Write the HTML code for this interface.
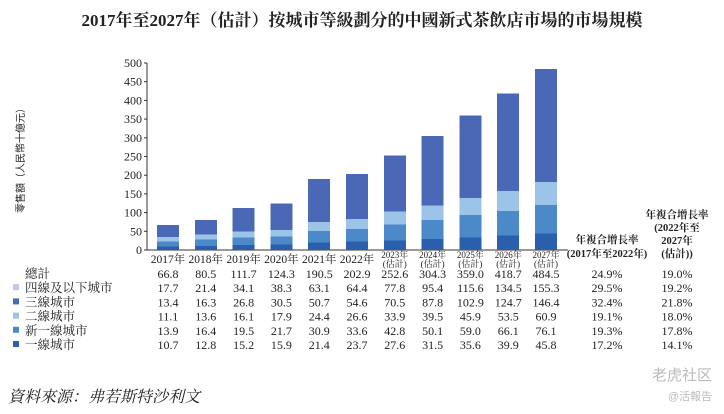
<!DOCTYPE html>
<html><head><meta charset="utf-8">
<style>
body{margin:0;width:724px;height:414px;background:#fff;overflow:hidden;font-family:"Liberation Serif","Noto Serif CJK SC",serif;}
svg{display:block}
text{fill:#222}
</style></head>
<body>
<svg id="chart" width="724" height="414">
<text x="362" y="26" text-anchor="middle" font-size="17" font-weight="bold">2017年至2027年（估計）按城市等級劃分的中國新式茶飲店市場的市場規模</text>
<text transform="translate(24,158) rotate(-90)" text-anchor="middle" font-size="10" font-family="Liberation Sans,Noto Sans CJK TC,sans-serif">零售額（人民幣十億元）</text>
<g id="axis"></g><g id="bars" shape-rendering="crispEdges"></g><g id="table"></g>
<text x="8" y="402" font-size="16" font-style="italic">資料來源：弗若斯特沙利文</text>
<text x="712" y="380" text-anchor="end" font-size="15" style="fill:#bbb" font-family="Liberation Sans,Noto Sans CJK SC,sans-serif">老虎社区</text>
<text x="712" y="400" text-anchor="end" font-size="11" style="fill:#bbb" font-family="Liberation Sans,Noto Sans CJK SC,sans-serif">@活報告</text>
</svg>
<script>
const years=["2017","2018","2019","2020","2021","2022","2023","2024","2025","2026","2027"];
const tier1=[10.7,12.8,15.2,15.9,21.4,23.7,27.6,31.5,35.6,39.9,45.8];
const newTier1=[13.9,16.4,19.5,21.7,30.9,33.6,42.8,50.1,59.0,66.1,76.1];
const tier2=[11.1,13.6,16.1,17.9,24.4,26.6,33.9,39.5,45.9,53.5,60.9];
const tier3=[13.4,16.3,26.8,30.5,50.7,54.6,70.5,87.8,102.9,124.7,146.4];
const tier4=[17.7,21.4,34.1,38.3,63.1,64.4,77.8,95.4,115.6,134.5,155.3];
const totals=[66.8,80.5,111.7,124.3,190.5,202.9,252.6,304.3,359.0,418.7,484.5];
const cagr1=["24.9%","29.5%","32.4%","19.1%","19.3%","17.2%"];
const cagr2=["19.0%","19.2%","21.8%","18.0%","17.8%","14.1%"];
const yTicks=[0,50,100,150,200,250,300,350,400,450,500];
const NS="http://www.w3.org/2000/svg";
const y0=250,yTop=63,yMax=500,x0=168,step=37.8,bw=22;
const Y=v=>y0-(v/yMax)*(y0-yTop);
const X=i=>x0+i*step;
function mk(p,t,a){const e=document.createElementNS(NS,t);for(const k in a)e.setAttribute(k,a[k]);p.appendChild(e);return e;}
const ax=document.getElementById('axis'),bars=document.getElementById('bars'),tb=document.getElementById('table');
let l=mk(ax,'line',{x1:147,y1:yTop,x2:147,y2:y0,stroke:'#333'});


l=mk(ax,'line',{x1:147,y1:y0,x2:X(10)+22,y2:y0,stroke:'#333'});


yTicks.forEach(v=>{
 mk(ax,'line',{x1:144,y1:Y(v),x2:147,y2:Y(v),stroke:'#333'});
 const t=mk(ax,'text',{x:142,y:Y(v)+4,'text-anchor':'end','font-size':12});t.textContent=v;
 
 
});
const series=[tier1,newTier1,tier2,tier3,tier4];
const colors=['#2a5fae','#4b89c9','#9cc4e8','#4a68b5','#4a68b5'];
const names=['tier1','new-tier1','tier2','tier3','tier4'];
years.forEach((yr,i)=>{
 let acc=0;
 series.forEach((s,k)=>{
  const top=Y(acc+s[i]);
  const h=Y(acc)-top+(k>0?0.6:0);
  const r=mk(bars,'rect',{x:X(i)-bw/2,y:top,width:bw,height:h,fill:colors[k]});
  
  
  acc+=s[i];
 });
 let t;
 if(i<6){t=mk(tb,'text',{x:X(i),y:263,'text-anchor':'middle','font-size':11.5});t.textContent=yr+'年';}
 else{t=mk(tb,'text',{x:X(i),y:258,'text-anchor':'middle','font-size':9});t.textContent=yr+'年';
  const t2=mk(tb,'text',{x:X(i),y:267,'text-anchor':'middle','font-size':9});t2.textContent='(估計)';
  
  }
 
 
});
const rows=[['總計',totals,null],['四線及以下城市',tier4,'#c4c7e6'],['三線城市',tier3,'#4a68b5'],['二線城市',tier2,'#9cc4e8'],['新一線城市',newTier1,'#4b89c9'],['一線城市',tier1,'#2a5fae']];
rows.forEach((r,j)=>{
 const yy=278+j*14.2;
 if(r[2]){const s=mk(tb,'rect',{x:13,y:yy-8,width:6,height:6,fill:r[2]});
  
  }
 const lb=mk(tb,'text',{x:25,y:yy,'font-size':12.5,'font-family':'Liberation Serif,Noto Serif CJK SC,serif'});lb.textContent=r[0];
 
 
 r[1].forEach((v,i)=>{const t=mk(tb,'text',{x:X(i),y:yy,'text-anchor':'middle','font-size':12});t.textContent=v.toFixed(1);
  
  });
});
[cagr1,cagr2].forEach((arr,c)=>arr.forEach((v,j)=>{
 const t=mk(tb,'text',{x:c?677:607,y:278+j*14.2,'text-anchor':'middle','font-size':12});t.textContent=v;
 
 
}));
[['年複合增長率',607,243],['(2017年至2022年)',607,257],['年複合增長率',677,218],['(2022年至',677,231],['2027年',677,244],['(估計))',677,257]].forEach(h=>{
 const t=mk(tb,'text',{x:h[1],y:h[2],'text-anchor':'middle','font-size':10.5,'font-weight':'bold'});t.textContent=h[0];
 
 
});
</script>
</body></html>
